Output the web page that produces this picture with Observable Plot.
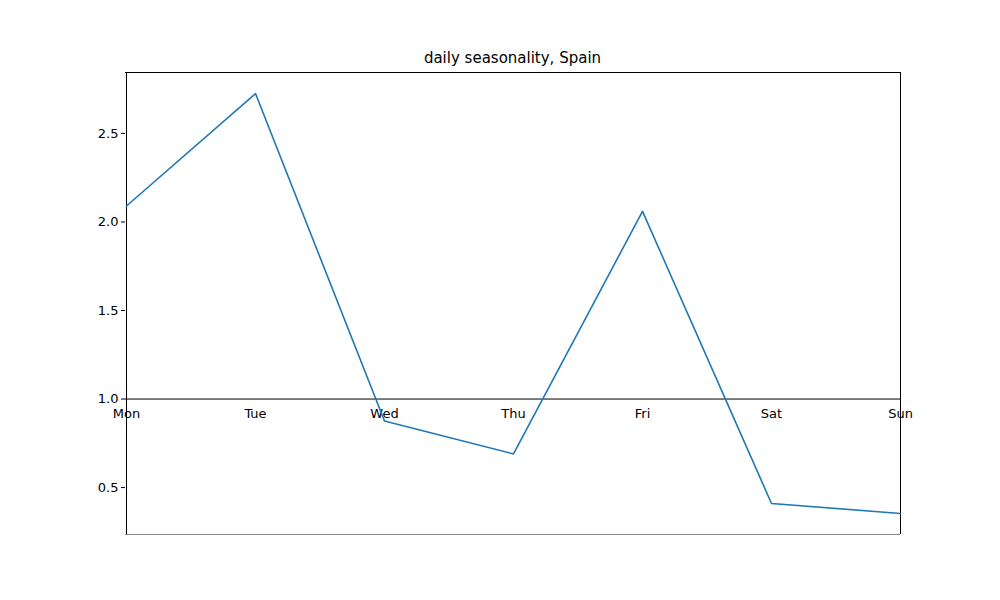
<!DOCTYPE html>
<html><head>
<script src="https://cdn.jsdelivr.net/npm/d3@7"></script>
<script src="https://cdn.jsdelivr.net/npm/@observablehq/plot@0.6"></script>
<style>body{margin:0;background:#fff;font-family:"DejaVu Sans";}#wrap{position:relative;width:1000px;height:600px}
#title{position:absolute;top:49px;left:125px;width:775px;text-align:center;font-size:15px}</style>
</head><body><div id="wrap"><div id="title">daily seasonality, Spain</div></div>
<script>
const days = ["Mon","Tue","Wed","Thu","Fri","Sat","Sun"];
const values = [2.09, 2.725, 0.876, 0.69, 2.06, 0.41, 0.354];
const yTicks = [0.5, 1.0, 1.5, 2.0, 2.5];
const data = days.map((d,i)=>({day:d, v:values[i]}));
const chart = Plot.plot({
  width:1000, height:600,
  marginTop:72, marginBottom:66, marginLeft:125, marginRight:100,
  style:{fontFamily:"DejaVu Sans", fontSize:"13px", color:"#000"},
  x:{type:"point", domain:days, padding:0, axis:null},
  y:{domain:[0.235,2.844], ticks:yTicks, tickFormat:d3.format(".1f")},
  marks:[
    Plot.axisY({ticks:yTicks, tickFormat:d3.format(".1f"), tickSize:4, tickPadding:3, label:null, fontSize:13}),
    Plot.ruleX([0],{x:()=> "Mon", stroke:"#000"}),
    Plot.ruleX([0],{x:()=> "Sun", stroke:"#000"}),
    Plot.ruleY([0],{y:()=>2.844, stroke:"#000"}),
    Plot.ruleY([0],{y:()=>0.235, stroke:"#888"}),
    Plot.ruleY([1],{stroke:"#000"}),
    Plot.text(days,{x:d=>d, y:()=>1, dy:15, text:d=>d, fontSize:13}),
    Plot.line(data,{x:"day", y:"v", stroke:"#1f77b4", strokeWidth:1.6})
  ]
});
document.getElementById("wrap").appendChild(chart);
</script></body></html>
